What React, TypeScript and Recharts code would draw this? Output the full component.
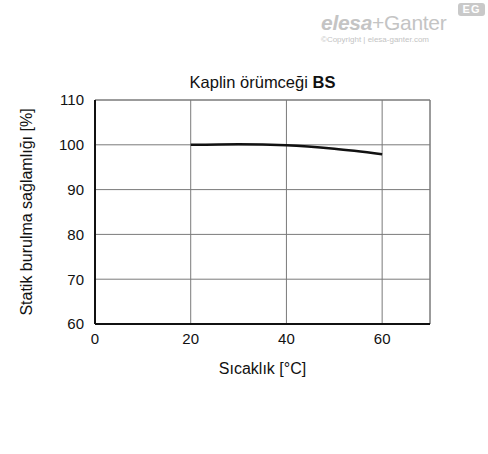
import {
  CartesianGrid,
  Label,
  Line,
  LineChart,
  ReferenceLine,
  XAxis,
  YAxis,
} from "recharts";

const temperatures = [20, 30, 40, 50, 60];
const strength = [100, 100.15, 99.9, 99.1, 97.9];
const xTicks = [0, 20, 40, 60];
const yTicks = [60, 70, 80, 90, 100, 110];

const data = temperatures.map((t, i) => ({ t, v: strength[i] }));

const FONT = "'Liberation Sans', Arial, sans-serif";
const GRID = "#7a7a7a";

function Watermark() {
  return (
    <div style={{ position: "absolute", left: 318, top: 2, width: 170, height: 48, color: "#c4c4c4", fontFamily: FONT }}>
      <div style={{ position: "absolute", left: 140, top: 1, width: 27, height: 13, background: "#c9c9c9", borderRadius: 3, color: "#fff", fontSize: 11, fontWeight: 700, lineHeight: "13px", textAlign: "center", letterSpacing: 1 }}>
        EG
      </div>
      <div style={{ position: "absolute", left: 3, top: 9, fontSize: 21, lineHeight: "24px", whiteSpace: "nowrap", letterSpacing: -0.3 }}>
        <span style={{ fontWeight: 900, fontStyle: "italic" }}>elesa</span>
        <span>+Ganter</span>
      </div>
      <div style={{ position: "absolute", left: 3, top: 33, fontSize: 8, whiteSpace: "nowrap" }}>
        ©Copyright | elesa-ganter.com
      </div>
    </div>
  );
}

export default function App() {
  return (
    <div style={{ position: "absolute", left: 0, top: 0, width: 488, height: 454, background: "#fff", fontFamily: FONT }}>
      <Watermark />
      <div style={{ position: "absolute", left: 95, width: 335, top: 73, textAlign: "center", fontSize: 16.5, color: "#111" }}>
        Kaplin örümceği <b>BS</b>
      </div>
      <LineChart
        width={488}
        height={454}
        data={data}
        margin={{ top: 100, right: 58, bottom: 100, left: 35 }}
      >
        <CartesianGrid stroke={GRID} strokeWidth={1} />
        <ReferenceLine x={70} stroke={GRID} strokeWidth={1} />
        <ReferenceLine y={110} stroke={GRID} strokeWidth={1} />
        <XAxis
          dataKey="t"
          type="number"
          domain={[0, 70]}
          ticks={xTicks}
          tickSize={0}
          tickMargin={9}
          height={30}
          axisLine={{ stroke: "#111", strokeWidth: 2 }}
          tick={{ fill: "#111", fontSize: 15, fontFamily: FONT }}
        >
          <Label
            value="Sıcaklık [°C]"
            position="bottom"
            offset={9}
            style={{ fill: "#111", fontSize: 16, fontFamily: FONT }}
          />
        </XAxis>
        <YAxis
          type="number"
          domain={[60, 110]}
          ticks={yTicks}
          tickSize={0}
          tickMargin={11}
          width={60}
          axisLine={{ stroke: "#111", strokeWidth: 2 }}
          tick={{ fill: "#111", fontSize: 15, fontFamily: FONT }}
        >
          <Label
            value="Statik burulma sağlamlığı [%]"
            angle={-90}
            position="insideLeft"
            offset={-9}
            style={{ fill: "#111", fontSize: 16, fontFamily: FONT, textAnchor: "middle" }}
          />
        </YAxis>
        <Line
          type="monotone"
          dataKey="v"
          stroke="#111"
          strokeWidth={2.5}
          dot={false}
          isAnimationActive={false}
        />
      </LineChart>
    </div>
  );
}
